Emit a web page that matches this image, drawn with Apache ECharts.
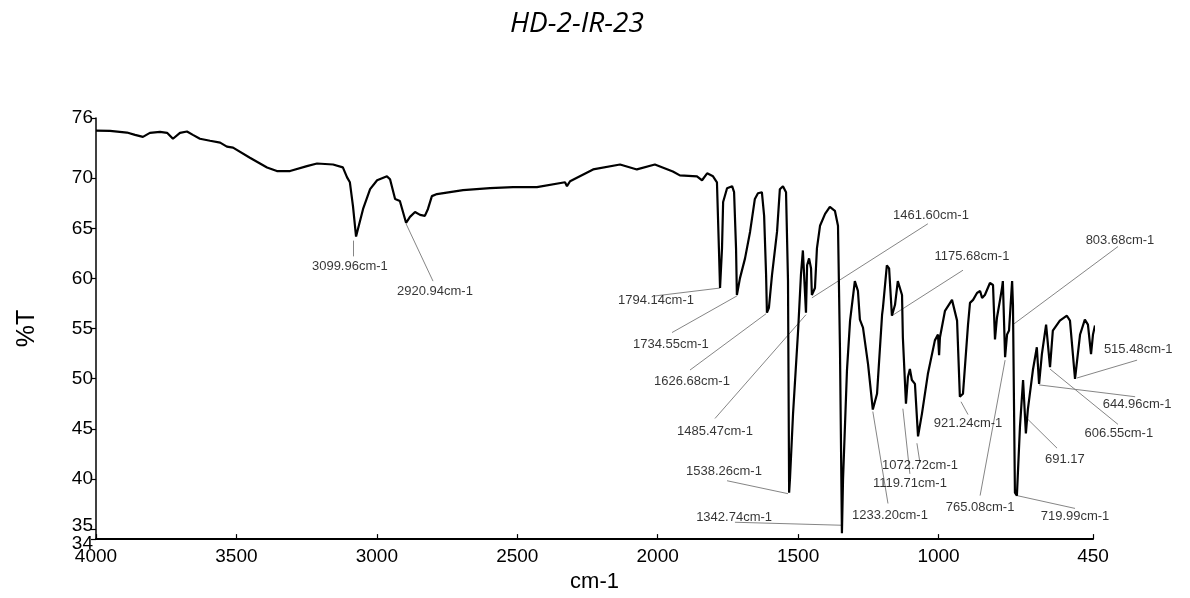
<!DOCTYPE html>
<html><head><meta charset="utf-8">
<script src="https://cdn.jsdelivr.net/npm/echarts@6/dist/echarts.min.js"></script>
<style>html,body{margin:0;padding:0;background:#fff}#c{width:1190px;height:598px}</style>
</head><body><div id="c"></div>
<script>
// Spectrum (wavenumber, cm-1) and transmittance (%T)
const wavenumbers = [4000,3950,3890,3861,3833,3808,3772,3747,3726,3701,
3676,3655,3630,3594,3558,3534,3512,3452,3391,3356,
3309,3249,3213,3156,3121,3106,3096,3085,3074,3067,
3049,3024,2999,2964,2953,2935,2918,2896,2882,2864,
2846,2829,2818,2804,2786,2693,2597,2515,2430,2330,
2323,2312,2230,2134,2074,2010,1946,1921,1860,1842,
1824,1803,1789,1782,1778,1771,1767,1753,1735,1728,
1721,1718,1707,1689,1671,1654,1643,1629,1621,1614,
1611,1604,1593,1575,1565,1554,1543,1536,1532,1529,
1518,1500,1490,1483,1476,1472,1468,1461,1454,1451,
1440,1433,1422,1404,1387,1369,1358,1351,1344,1340,
1326,1315,1298,1287,1280,1269,1251,1234,1219,1201,
1198,1184,1176,1166,1155,1145,1130,1127,1116,1109,
1102,1095,1084,1073,1059,1038,1013,1002,998,995,
977,952,934,924,913,895,888,877,863,852,
845,835,817,806,799,792,781,774,771,763,
756,749,738,735,728,721,710,699,689,682,
664,650,642,632,617,603,593,568,543,532,
514,496,479,468,457,450,443];
const transmittance = [74.75,74.72,74.55,74.32,74.12,74.52,74.62,74.52,73.93,74.52,
74.65,74.32,73.93,73.73,73.54,73.14,73.04,72.03,71.07,70.71,
70.71,71.2,71.46,71.36,71.07,70.08,69.59,67.22,64.17,64.96,
66.93,68.9,69.79,70.18,69.89,67.92,67.72,65.55,66.14,66.63,
66.34,66.24,66.93,68.21,68.41,68.8,69.0,69.1,69.1,69.59,
69.2,69.69,70.87,71.36,70.87,71.36,70.67,70.28,70.18,69.79,
70.48,70.18,69.59,62.99,59.04,62.99,67.62,69.0,69.2,68.6,
62.99,58.35,60.03,62.0,64.66,67.93,68.5,68.6,66.24,60.32,
56.58,57.07,60.32,64.66,68.9,69.2,68.6,59.73,38.63,40.01,
46.52,54.8,60.32,62.79,62.69,56.58,61.31,62.0,61.01,58.35,
59.04,62.99,65.25,66.44,67.13,66.74,65.25,53.12,34.59,40.01,
50.86,55.79,59.73,58.75,55.89,55.1,51.45,46.92,48.49,56.38,
57.07,61.31,61.01,56.28,57.37,59.73,58.35,54.11,47.51,50.17,
50.96,49.87,49.48,44.25,46.52,50.46,53.82,54.41,52.34,54.11,
56.77,57.86,55.79,48.2,48.49,55.39,57.56,57.86,58.55,58.75,
58.06,58.35,59.54,59.34,53.92,56.08,57.86,59.04,59.73,52.14,
54.41,54.8,59.73,57.37,38.63,38.34,45.24,49.87,44.55,46.92,
50.86,53.13,49.48,52.44,55.39,51.15,54.8,55.79,56.28,55.79,
49.97,54.41,55.89,55.39,52.44,54.41,55.3];

const xTicks = [4000,3500,3000,2500,2000,1500,1000,450];
const yTicks = [34,35,40,45,50,55,60,65,70,76];

// Peak annotations
const peakLabels = ['3099.96cm-1','2920.94cm-1','1794.14cm-1','1734.55cm-1','1626.68cm-1','1485.47cm-1','1538.26cm-1','1342.74cm-1','1461.60cm-1','1175.68cm-1','803.68cm-1','515.48cm-1','644.96cm-1','606.55cm-1','691.17','719.99cm-1','765.08cm-1','921.24cm-1','1072.72cm-1','1119.71cm-1','1233.20cm-1'];
const peakPoints = [[3085,63.77],[2896,65.45],[1778,59.04],[1718,58.25],[1614,56.48],[1472,56.38],[1536,38.53],[1344,35.38],[1451,58.06],[1166,56.28],[735,55.39],[507,50.07],[642,49.38],[603,50.96],[685,46.03],[721,38.34],[763,51.85],[920,47.7],[1077,43.56],[1127,47.01],[1234,46.72]];

// Layout of the annotations (in axis units)
const leaderEnds = [[3085,62.2],[2800,59.73],[2010,58.25],[1949,54.6],[1885,50.86],[1796,46.03],[1753,39.82],[1725,35.68],[1038,65.45],[913,60.82],[361,63.18],[293,51.85],[300,48.2],[361,45.44],[578,43.07],[514,37.06],[852,38.34],[895,46.42],[1066,41.59],[1102,40.51],[1180,37.55]];
const labelAt = [[3096,61.21],[2793,58.75],[2006,57.76],[1953,53.42],[1878,49.68],[1796,44.75],[1764,40.80],[1728,36.17],[1027,66.24],[881,62.2],[354,63.77],[289,52.93],[293,47.41],[358,44.55],[550,41.99],[514,36.27],[852,37.15],[895,45.53],[1066,41.3],[1102,39.52],[1173,36.37]];

const chart = echarts.init(document.getElementById('c'), null, {renderer:'canvas'});
const FONT = 'Liberation Sans, Arial, sans-serif';
const Y_MIN = yTicks[0], Y_MAX = yTicks[yTicks.length - 1];
const G = {left: 96, right: 97, top: 118, bottom: 54};
const plotH = 598 - G.top - G.bottom;
const pxPerUnit = plotH / (Y_MAX - Y_MIN);
const minTick = yTicks[0], crowded = yTicks[1];
const mainYLabels = yTicks.filter(v => v !== crowded && v !== minTick);
// helper grid, one unit taller at the bottom, so the minimum tick label is not an edge label
const G2 = {left: G.left, right: G.right, top: G.top, bottom: G.bottom - pxPerUnit};

const option = {
  animation: false,
  backgroundColor: '#fff',
  title: {
    text: 'HD-2-IR-23', left: 505, top: 5,
    textStyle: {fontFamily: 'Open Sans', fontStyle: 'italic', fontWeight: 'normal', fontSize: 28, color: '#000'}
  },
  grid: [G, G2],
  xAxis: [{
    type: 'value', inverse: true, min: 450, max: 4000,
    name: 'cm-1', nameLocation: 'middle', nameGap: 25,
    nameTextStyle: {fontFamily: FONT, fontSize: 22, color: '#000'},
    axisLine: {onZero: false, lineStyle: {color: '#000', width: 2}},
    axisTick: {inside: true, length: 5, customValues: xTicks, lineStyle: {color: '#000', width: 1.2}},
    axisLabel: {customValues: xTicks, formatter: v => String(v), fontFamily: FONT, fontSize: 19, color: '#000', margin: 8, showMinLabel: true, showMaxLabel: true},
    splitLine: {show: false}
  }, {
    gridIndex: 1, type: 'value', min: 0, max: 1, show: false
  }],
  yAxis: [{
    type: 'value', min: Y_MIN, max: Y_MAX,
    name: '%T', nameLocation: 'middle', nameGap: 56, nameRotate: 90,
    nameTextStyle: {fontFamily: FONT, fontSize: 25, color: '#000'},
    axisLine: {onZero: false, lineStyle: {color: '#000', width: 1.5}},
    axisTick: {length: 5, customValues: yTicks, lineStyle: {color: '#000', width: 1.2}},
    axisLabel: {
      customValues: mainYLabels, fontFamily: FONT, fontSize: 19, color: '#000', margin: 3,
      showMinLabel: true, showMaxLabel: true
    },
    splitLine: {show: false}
  }, {
    type: 'value', min: Y_MIN, max: Y_MAX, position: 'left',
    axisLine: {show: false}, axisTick: {show: false}, splitLine: {show: false},
    axisLabel: {
      customValues: [crowded], fontFamily: FONT, color: '#000', margin: 3,
      showMinLabel: true, showMaxLabel: true,
      formatter: v => '{u|' + v + '}',
      rich: {u: {fontFamily: FONT, fontSize: 19, color: '#000', padding: [0, 0, 7, 0]}}
    }
  }, {
    gridIndex: 1, type: 'value', min: Y_MIN - 1, max: Y_MAX, position: 'left',
    axisLine: {show: false}, axisTick: {show: false}, splitLine: {show: false},
    axisLabel: {
      customValues: [minTick], fontFamily: FONT, fontSize: 19, color: '#000', margin: 3,
      showMinLabel: true, showMaxLabel: true
    }
  }],
  series: [
    {
      type: 'line', data: wavenumbers.map((w, i) => [w, transmittance[i]]),
      showSymbol: false, symbol: 'none', smooth: false,
      lineStyle: {color: '#000', width: 2.2}, clip: true, silent: true
    },
    {
      type: 'lines', coordinateSystem: 'cartesian2d', clip: false, silent: true,
      data: peakPoints.map((p, i) => ({coords: [p, leaderEnds[i]]})),
      lineStyle: {color: '#777', width: 0.9, opacity: 1, curveness: 0}
    },
    {
      type: 'scatter', clip: false, silent: true, symbolSize: 1,
      itemStyle: {color: 'transparent'},
      data: labelAt.map((p, i) => ({value: p, name: peakLabels[i]})),
      label: {show: true, position: 'inside', formatter: '{b}', fontFamily: FONT, fontSize: 13, color: '#000'}
    }
  ]
};
chart.setOption(option);
</script></body></html>
